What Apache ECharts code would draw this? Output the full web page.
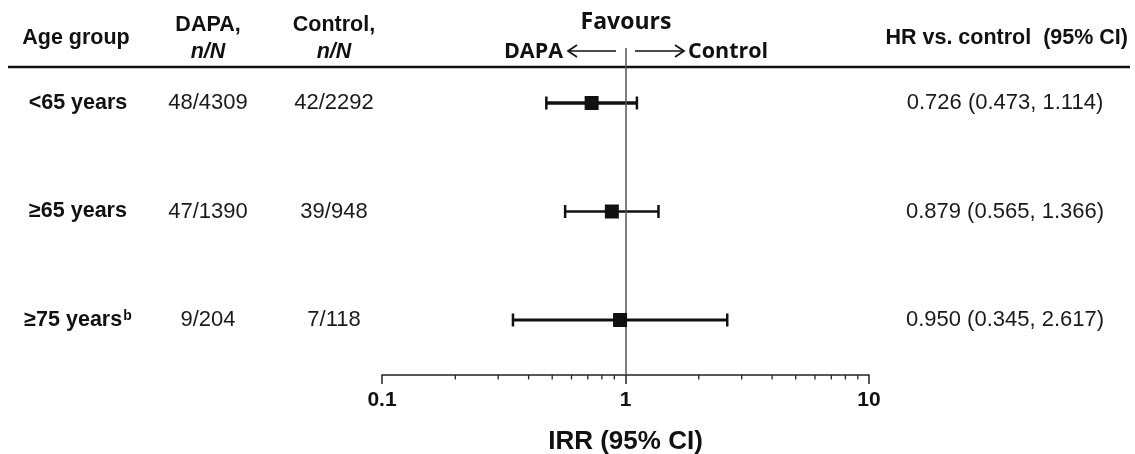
<!DOCTYPE html>
<html><head><meta charset="utf-8">
<script src="https://cdn.jsdelivr.net/npm/echarts@6/dist/echarts.min.js"></script>
<style>html,body{margin:0;padding:0;background:#fff}#c{width:1135px;height:454px}</style>
</head><body><div id="c"></div>
<script>
const ageGroups = ['<65 years', '≥65 years', '≥75 years'];
const ageSup = ['', '', 'b'];
const dapaNN = ['48/4309', '47/1390', '9/204'];
const controlNN = ['42/2292', '39/948', '7/118'];
const hrEst = [0.726, 0.879, 0.950];
const ciLow = [0.473, 0.565, 0.345];
const ciHigh = [1.114, 1.366, 2.617];
const minorTickValues = [0.2, 0.3, 0.4, 0.5, 0.6, 0.7, 0.8, 0.9, 2, 3, 4, 5, 6, 7, 8, 9];

const FONT = 'Liberation Sans, Arial, sans-serif';
const FAV = 'Open Sans, Noto Sans, sans-serif';
const INK = '#111';
const barWidths = [3.5, 2.5, 3];
const BOLD = 'bold 21.5px ' + FONT;
const REG = '22px ' + FONT;

const rowIdx = ageGroups.map((_, i) => i);
const hrText = rowIdx.map(i => hrEst[i].toFixed(3) + ' (' + ciLow[i].toFixed(3) + ', ' + ciHigh[i].toFixed(3) + ')');

const chart = echarts.init(document.getElementById('c'), null, {renderer: 'canvas'});

const option = {
  animation: false,
  backgroundColor: '#fff',
  grid: {left: 382, right: 266, top: 48, bottom: 79, containLabel: false, outerBoundsMode: 'none'},
  xAxis: {
    type: 'log', logBase: 10, min: 0.1, max: 10, interval: 1,
    axisLine: {show: true, onZero: false, lineStyle: {color: '#222', width: 1.5}},
    axisTick: {show: true, length: 9, lineStyle: {color: '#222', width: 1.5}},
    axisLabel: {color: INK, fontFamily: FONT, fontWeight: 'bold', fontSize: 21, margin: 15,
      formatter: v => String(v)},
    splitLine: {show: false},
    name: 'IRR (95% CI)', nameLocation: 'middle', nameGap: 54,
    nameTextStyle: {color: INK, fontFamily: FONT, fontWeight: 'bold', fontSize: 26}
  },
  yAxis: {type: 'value', inverse: true, min: -0.507, max: 2.507, show: false},
  graphic: [
    {type: 'line', shape: {x1: 8, y1: 67, x2: 1130, y2: 67}, style: {stroke: INK, lineWidth: 2.5}},
    {type: 'text', x: 76, y: 38, style: {text: 'Age group', font: BOLD, fill: INK, align: 'center', verticalAlign: 'middle'}},
    {type: 'text', x: 208, y: 25, style: {text: 'DAPA,', font: BOLD, fill: INK, align: 'center', verticalAlign: 'middle'}},
    {type: 'text', x: 208, y: 52, style: {text: 'n/N', font: 'italic ' + BOLD, fill: INK, align: 'center', verticalAlign: 'middle'}},
    {type: 'text', x: 334, y: 25, style: {text: 'Control,', font: BOLD, fill: INK, align: 'center', verticalAlign: 'middle'}},
    {type: 'text', x: 334, y: 52, style: {text: 'n/N', font: 'italic ' + BOLD, fill: INK, align: 'center', verticalAlign: 'middle'}},
    {type: 'text', x: 626, y: 22, style: {text: 'Favours', font: 'bold 23px ' + FAV, fill: INK, align: 'center', verticalAlign: 'middle'}},
    {type: 'text', x: 563, y: 52, style: {text: 'DAPA', font: 'bold 21.5px ' + FAV, fill: INK, align: 'right', verticalAlign: 'middle'}},
    {type: 'text', x: 688, y: 52, style: {text: 'Control', font: 'bold 21.5px ' + FAV, fill: INK, align: 'left', verticalAlign: 'middle'}},
    {type: 'line', shape: {x1: 616, y1: 51, x2: 568, y2: 51}, style: {stroke: INK, lineWidth: 1.7}},
    {type: 'polyline', shape: {points: [[577, 45], [568, 51], [577, 57]]}, style: {stroke: INK, lineWidth: 1.7, fill: 'none'}},
    {type: 'line', shape: {x1: 635, y1: 51, x2: 684, y2: 51}, style: {stroke: INK, lineWidth: 1.7}},
    {type: 'polyline', shape: {points: [[675, 45], [684, 51], [675, 57]]}, style: {stroke: INK, lineWidth: 1.7, fill: 'none'}},
    {type: 'text', x: 1128, y: 38, style: {text: 'HR vs. control  (95% CI)', font: BOLD, fill: INK, align: 'right', verticalAlign: 'middle'}}
  ],
  series: [
    {
      type: 'custom', silent: true, clip: false,
      data: minorTickValues.map(v => [v, 0]),
      renderItem: (params, api) => {
        const p = api.coord([api.value(0), 0]);
        const yb = params.coordSys.y + params.coordSys.height;
        return {type: 'line', shape: {x1: p[0], y1: yb, x2: p[0], y2: yb + 4.5},
          style: {stroke: '#222', lineWidth: 1.3}};
      }
    },
    {
      type: 'custom', silent: true, clip: false,
      data: rowIdx.map(i => [ciLow[i], ciHigh[i], i]),
      renderItem: (params, api) => {
        const i = api.value(2);
        const a = api.coord([api.value(0), i]);
        const b = api.coord([api.value(1), i]);
        const w = barWidths[params.dataIndex];
        const st = {stroke: INK, lineWidth: w};
        return {type: 'group', children: [
          {type: 'line', shape: {x1: a[0], y1: a[1], x2: b[0], y2: b[1]}, style: st},
          {type: 'line', shape: {x1: a[0], y1: a[1] - 6.5, x2: a[0], y2: a[1] + 6.5}, style: {stroke: INK, lineWidth: 2.5}},
          {type: 'line', shape: {x1: b[0], y1: b[1] - 6.5, x2: b[0], y2: b[1] + 6.5}, style: {stroke: INK, lineWidth: 2.5}}
        ]};
      }
    },
    {
      type: 'scatter', symbol: 'rect', symbolSize: 14, silent: true,
      itemStyle: {color: INK, opacity: 1},
      data: rowIdx.map(i => [hrEst[i], i]),
      markLine: {
        silent: true, symbol: 'none', label: {show: false},
        lineStyle: {color: '#555', width: 1.5, type: 'solid', opacity: 1},
        data: [{xAxis: 1}]
      },
      z: 5
    },
    {
      type: 'custom', silent: true, clip: false,
      data: rowIdx.map(i => [1, i]),
      renderItem: (params, api) => {
        const k = params.dataIndex;
        const y = api.coord([1, api.value(1)])[1];
        const base = {fill: '#1a1a1a', verticalAlign: 'middle', align: 'center'};
        return {type: 'group', children: [
          {type: 'text', x: 78, y: y, style: Object.assign({}, base, {
            text: '{m|' + ageGroups[k] + '}' + (ageSup[k] ? '{s|' + ageSup[k] + '}' : ''),
            rich: {m: {font: BOLD, fill: INK}, s: {font: 'bold 14px ' + FONT, fill: INK, verticalAlign: 'top', padding: [0, 0, 8, 1]}}
          })},
          {type: 'text', x: 208, y: y, style: Object.assign({}, base, {text: dapaNN[k], font: REG})},
          {type: 'text', x: 334, y: y, style: Object.assign({}, base, {text: controlNN[k], font: REG})},
          {type: 'text', x: 1005, y: y, style: Object.assign({}, base, {text: hrText[k], font: REG})}
        ]};
      }
    }
  ]
};
chart.setOption(option);
</script></body></html>
